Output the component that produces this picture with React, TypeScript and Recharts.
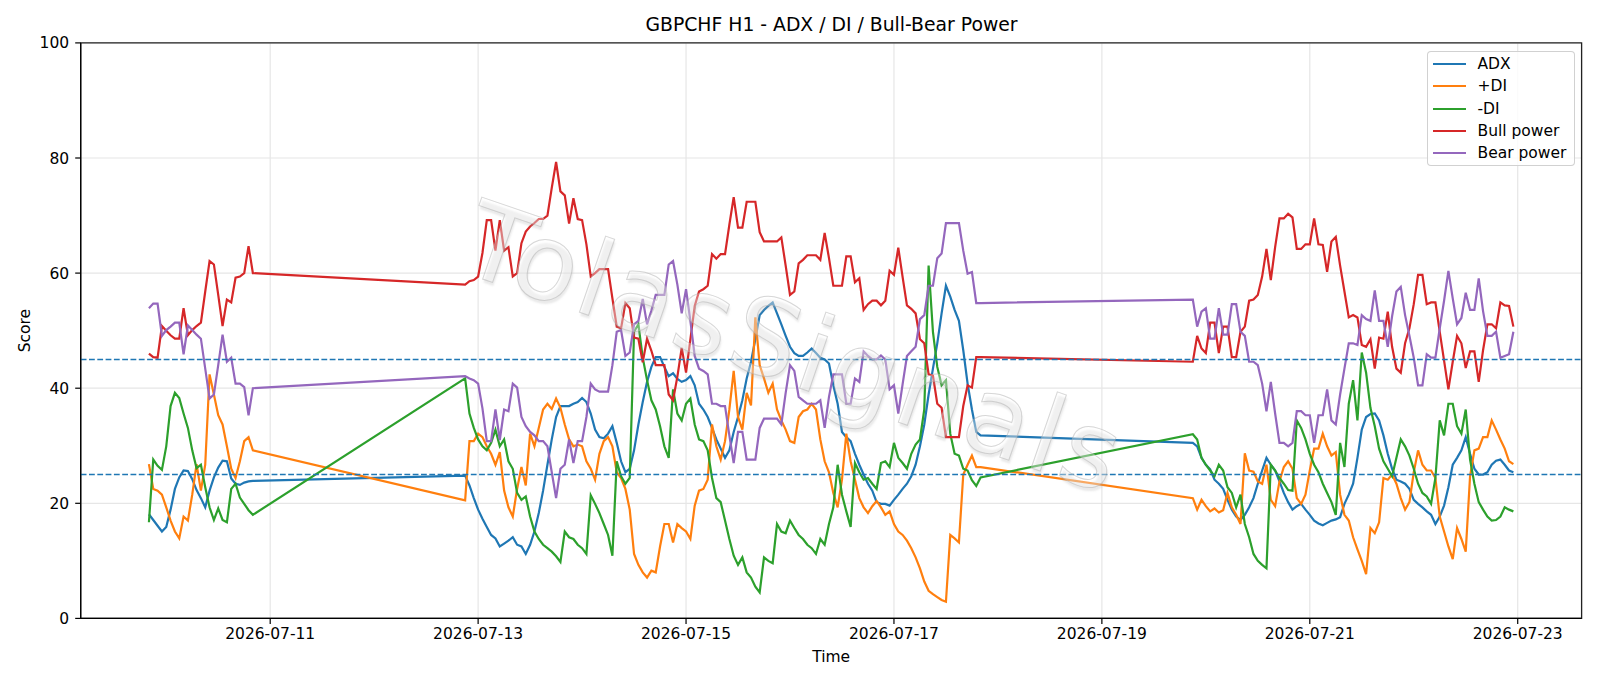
import React from 'react';
import { LineChart, Line, XAxis, YAxis, CartesianGrid, ReferenceLine, ReferenceArea, Legend, Label } from 'recharts';

// Trading sessions (hourly bars): start time and number of bars
const sessionStarts = ['2026-07-09T20:00', '2026-07-12T21:00', '2026-07-19T21:00'];
const sessionBars = [25, 120, 75];

const adx = [
  18.1, 17.1, 16.1, 15.1, 15.9, 18.9, 22.5, 24.5, 25.7, 25.6, 24.2, 22.3, 20.9, 19.3, 22.2, 24.5, 26.2, 27.4, 27.3, 24.3, 23.4, 23.2, 23.6, 23.8, 23.9,
  24.8, 23.1, 20.9, 18.9, 17.3, 15.9, 14.5, 13.9, 12.5, 13.0, 13.5, 14.1, 12.8, 12.5, 11.2, 12.8, 15.1, 18.3, 22.2, 26.7, 31.1, 35.0, 36.9, 36.9, 36.9, 37.3, 37.6,
  38.3, 37.6, 35.6, 32.8, 31.5, 31.3, 32.1, 33.4, 30.5, 27.3, 25.4, 26.0, 29.2, 33.7, 37.6, 41.1, 43.7, 45.4, 45.4, 43.7, 42.1, 42.6, 41.6, 41.1, 41.4, 42.1, 40.5, 37.3,
  36.3, 35.0, 33.1, 31.1, 29.5, 27.9, 29.2, 32.4, 35.0, 37.9, 41.7, 44.6, 48.5, 52.7, 53.6, 54.3, 54.9, 53.0, 51.1, 49.1, 47.2, 46.1, 45.6, 45.6, 46.2, 46.9, 46.1, 45.3, 45.0,
  44.3, 40.5, 37.3, 32.4, 31.5, 30.8, 28.6, 26.7, 25.0, 23.4, 22.2, 20.2, 19.9, 19.9, 19.6, 20.6, 21.5, 22.5, 23.4, 24.7, 26.7, 29.9, 33.7, 38.9, 43.4, 47.8, 53.0, 57.8, 55.9, 53.6, 51.7, 46.6, 40.8, 36.3, 32.4, 31.8,
  30.5, 29.9, 27.9, 26.7, 25.9, 24.1, 23.4, 22.5, 20.6, 18.9, 17.7, 17.1, 18.0, 19.3, 20.9, 23.4, 25.7, 27.9, 26.7, 25.7, 23.8, 21.8, 20.2, 18.9, 19.5, 19.9, 18.9, 18.0, 17.0, 16.5, 16.2, 16.6, 17.0, 17.2, 17.6, 19.9, 21.5,
  23.4, 27.9, 32.8, 35.0, 35.5, 35.6, 34.4, 31.8, 28.6, 26.0, 24.1, 23.8, 23.4, 22.5, 20.6, 19.9, 19.3, 18.6, 18.0, 16.4, 17.7, 19.6, 22.8, 26.7, 27.9, 29.2, 31.5, 28.6, 26.0, 25.0, 25.0, 25.4, 26.7, 27.4, 27.6, 26.7, 25.7, 25.4,
];

const plusDI = [
  26.8, 22.5, 22.2, 21.5, 19.3, 17.0, 15.1, 13.9, 17.7, 17.0, 21.5, 26.8, 22.2, 26.7, 42.4, 38.9, 35.3, 33.7, 29.9, 26.0, 24.4, 27.3, 30.8, 31.5, 29.2,
  20.5, 30.8, 30.8, 32.1, 31.5, 29.9, 28.6, 26.7, 28.9, 22.2, 19.3, 17.7, 22.5, 26.3, 23.1, 32.1, 29.9, 33.1, 36.3, 37.3, 36.4, 38.2, 36.6, 33.7, 31.1, 29.9, 30.2,
  29.9, 27.3, 26.0, 24.1, 28.6, 30.8, 31.5, 29.9, 25.4, 24.4, 22.5, 18.9, 11.2, 9.3, 8.0, 7.1, 8.3, 8.0, 12.5, 16.4, 16.4, 13.2, 16.4, 15.7, 15.1, 13.8, 19.6, 22.2,
  22.5, 24.1, 33.7, 29.9, 27.6, 30.8, 36.3, 43.0, 35.0, 32.8, 39.2, 37.0, 52.3, 44.0, 41.7, 39.2, 40.8, 36.3, 34.4, 32.8, 30.8, 30.5, 35.0, 36.0, 36.3, 37.3, 36.3, 31.1, 27.3,
  25.4, 21.8, 19.3, 24.1, 32.1, 27.3, 24.1, 20.9, 19.3, 18.3, 19.5, 20.4, 19.3, 18.0, 18.6, 16.4, 15.1, 14.5, 13.5, 12.2, 10.6, 8.7, 6.4, 4.8, 4.2, 3.7, 3.2, 2.9, 14.5, 13.9, 13.2, 25.0, 26.7, 28.3, 26.3, 26.3,
  20.9, 18.9, 20.6, 19.5, 18.6, 19.1, 18.4, 18.8, 21.8, 19.3, 18.0, 16.4, 28.7, 25.7, 25.5, 23.8, 23.4, 26.7, 20.6, 19.5, 23.8, 26.3, 27.3, 26.0, 20.9, 19.9, 21.5, 25.7, 29.5, 29.5, 32.1, 29.9, 28.3, 28.9, 21.5, 18.0, 17.0,
  14.1, 12.0, 10.0, 7.7, 15.7, 14.8, 16.7, 24.4, 24.1, 25.0, 23.4, 20.9, 18.9, 20.2, 25.4, 29.2, 26.7, 25.7, 25.7, 24.4, 17.7, 15.1, 12.5, 10.3, 15.7, 13.8, 11.6, 24.7, 29.2, 29.5, 31.5, 31.5, 34.4, 32.8, 31.1, 29.5, 27.3, 26.8,
];

const minusDI = [
  16.7, 27.6, 26.5, 25.8, 29.9, 36.9, 39.2, 38.3, 35.6, 33.1, 29.2, 26.1, 26.7, 22.8, 19.3, 17.1, 19.1, 17.1, 16.7, 22.5, 23.4, 21.0, 19.9, 18.8, 18.0,
  41.7, 35.6, 33.1, 31.1, 29.9, 29.2, 30.5, 32.8, 29.9, 31.1, 27.3, 26.0, 21.8, 20.6, 21.2, 17.7, 15.1, 13.8, 12.8, 12.2, 11.6, 10.8, 9.8, 15.1, 14.1, 13.8, 12.8,
  12.2, 11.2, 21.4, 19.9, 18.3, 16.4, 14.5, 10.9, 27.3, 24.7, 23.4, 24.4, 49.8, 51.1, 45.3, 41.4, 37.9, 36.3, 33.4, 29.9, 27.9, 39.8, 35.6, 34.4, 37.3, 38.2, 33.7, 31.1,
  30.8, 29.2, 24.4, 20.9, 20.2, 17.0, 13.8, 10.9, 9.3, 10.6, 8.0, 7.1, 5.5, 4.5, 10.6, 10.0, 9.6, 16.4, 15.1, 14.8, 17.0, 15.7, 14.5, 13.8, 12.8, 12.2, 11.2, 13.8, 12.8,
  16.4, 19.3, 26.7, 21.5, 18.6, 15.9, 27.0, 25.4, 24.1, 24.4, 23.4, 22.5, 27.0, 27.3, 26.3, 30.5, 27.9, 27.0, 26.0, 28.6, 30.2, 31.1, 36.3, 61.3, 49.8, 43.7, 40.5, 41.4, 32.1, 28.6, 28.3, 26.0, 25.7, 24.0, 23.0, 24.5,
  32.0, 31.1, 27.9, 26.7, 25.7, 24.7, 26.7, 25.7, 22.8, 21.8, 19.3, 21.5, 16.4, 14.1, 11.2, 10.0, 9.3, 8.7, 26.7, 25.7, 24.4, 23.4, 22.3, 22.2, 34.4, 33.1, 31.1, 28.6, 26.7, 25.4, 23.4, 21.8, 20.2, 18.0, 30.5, 26.3, 37.3,
  41.4, 34.4, 46.2, 42.7, 36.6, 33.4, 29.5, 27.3, 26.0, 24.7, 27.9, 31.1, 29.9, 28.3, 26.0, 23.4, 21.8, 21.2, 19.9, 24.4, 34.4, 31.8, 37.3, 37.3, 33.4, 32.1, 36.3, 27.6, 23.4, 20.2, 18.9, 17.7, 17.0, 17.1, 17.7, 19.3, 18.9, 18.6,
];

const bullPower = [
  46.0, 45.4, 45.3, 50.8, 50.0, 49.2, 48.6, 48.6, 53.9, 49.2, 50.1, 50.8, 51.4, 56.8, 62.1, 61.5, 56.2, 50.8, 55.4, 54.9, 59.2, 59.4, 60.0, 64.7, 60.0,
  58.0, 58.6, 58.8, 59.4, 63.5, 69.2, 69.2, 63.9, 69.2, 63.9, 64.5, 59.4, 60.0, 65.2, 67.2, 68.1, 68.7, 69.4, 69.4, 70.0, 74.8, 79.3, 74.2, 73.5, 68.6, 73.0, 69.4,
  69.2, 65.0, 59.4, 60.0, 60.7, 60.7, 60.7, 55.6, 50.7, 50.4, 54.8, 53.9, 48.8, 48.6, 44.5, 48.6, 46.5, 44.0, 44.0, 44.0, 38.9, 37.9, 42.0, 47.0, 42.7, 48.5, 54.3, 56.8,
  57.2, 57.8, 63.3, 62.5, 63.3, 63.3, 68.4, 73.2, 67.9, 67.9, 72.4, 72.4, 72.4, 67.1, 65.5, 65.5, 65.5, 65.5, 66.2, 61.3, 56.2, 56.8, 61.7, 62.3, 63.1, 63.1, 63.1, 62.3, 67.0,
  62.6, 57.8, 57.8, 57.8, 62.9, 62.9, 58.4, 59.1, 53.6, 54.6, 55.2, 55.2, 54.4, 55.2, 60.4, 59.7, 64.4, 59.3, 54.4, 53.8, 53.0, 48.5, 47.8, 42.4, 42.2, 37.3, 36.6, 31.5, 31.5, 31.5, 31.5, 36.9, 40.5, 40.1, 45.4, 45.4,
  44.6, 49.1, 46.9, 46.1, 51.4, 51.4, 46.1, 50.7, 50.7, 45.4, 45.4, 49.8, 50.7, 55.2, 55.4, 56.2, 59.4, 64.2, 58.8, 64.5, 69.5, 69.5, 70.3, 69.7, 64.2, 64.2, 65.0, 65.0, 69.5, 65.0, 64.9, 60.2, 65.5, 66.3, 61.3, 56.8, 52.3,
  52.7, 52.3, 47.5, 47.2, 48.5, 43.4, 48.8, 48.6, 53.3, 47.2, 43.4, 42.7, 47.8, 50.4, 54.6, 59.7, 59.7, 54.6, 54.9, 54.9, 49.8, 44.8, 39.8, 44.6, 49.1, 47.8, 43.5, 46.4, 46.4, 41.1, 46.6, 51.1, 51.1, 50.4, 54.9, 54.4, 54.3, 50.7,
];

const bearPower = [
  53.9, 54.7, 54.7, 49.1, 50.1, 50.7, 51.4, 51.4, 45.9, 50.9, 50.1, 49.3, 48.6, 43.4, 38.2, 38.9, 44.0, 49.3, 44.6, 45.3, 40.8, 40.8, 40.2, 35.3, 40.0,
  42.1, 41.7, 41.4, 40.8, 36.5, 30.8, 30.8, 36.3, 31.0, 36.3, 36.0, 40.8, 40.1, 35.0, 33.4, 32.4, 31.8, 30.8, 30.8, 29.9, 25.4, 20.9, 26.0, 26.7, 31.1, 27.0, 30.8,
  30.8, 35.0, 40.8, 39.8, 39.4, 39.4, 39.4, 44.0, 49.8, 50.1, 45.6, 46.2, 51.1, 51.7, 55.5, 51.1, 53.5, 56.2, 56.2, 56.2, 61.5, 62.1, 58.0, 53.0, 57.2, 51.7, 45.6, 43.4,
  43.0, 42.4, 37.3, 37.3, 36.9, 36.9, 31.8, 27.0, 32.4, 32.4, 27.6, 27.6, 27.6, 33.1, 34.7, 34.7, 34.7, 34.7, 33.7, 39.2, 44.0, 43.0, 38.5, 37.9, 37.3, 37.3, 37.3, 37.9, 33.1,
  38.5, 42.4, 42.4, 42.4, 37.3, 37.3, 41.7, 41.1, 46.4, 45.6, 45.0, 45.0, 45.7, 45.0, 39.8, 40.5, 35.6, 40.7, 45.6, 46.4, 47.2, 52.0, 52.7, 57.8, 57.8, 62.6, 63.4, 68.7, 68.7, 68.7, 68.7, 63.9, 59.9, 60.2, 54.8, 54.8,
  55.4, 50.7, 53.3, 53.9, 48.6, 48.6, 53.9, 49.3, 49.3, 54.6, 54.6, 49.8, 49.1, 44.6, 44.6, 44.0, 40.8, 36.0, 41.1, 35.6, 30.5, 30.5, 29.9, 30.5, 36.0, 36.0, 35.3, 35.3, 30.5, 35.3, 35.3, 39.8, 34.4, 33.7, 38.9, 43.4, 47.8,
  47.8, 47.5, 52.7, 52.0, 51.7, 57.0, 51.7, 51.7, 47.2, 52.5, 56.8, 57.6, 52.7, 49.1, 45.3, 40.5, 40.5, 45.9, 45.3, 45.3, 50.4, 55.2, 60.4, 55.6, 51.1, 52.2, 56.6, 53.6, 53.6, 59.1, 53.4, 49.1, 49.1, 49.8, 45.3, 45.6, 45.9, 49.8,
];

const xTickLabels = ['2026-07-11', '2026-07-13', '2026-07-15', '2026-07-17', '2026-07-19', '2026-07-21', '2026-07-23'];
const yTicks = [0, 20, 40, 60, 80, 100];
const thresholdLevels = [45, 25];

const seriesMeta = [
  { key: 'adx', name: 'ADX', color: '#1f77b4' },
  { key: 'plusDI', name: '+DI', color: '#ff7f0e' },
  { key: 'minusDI', name: '-DI', color: '#2ca02c' },
  { key: 'bull', name: 'Bull power', color: '#d62728' },
  { key: 'bear', name: 'Bear power', color: '#9467bd' },
];

const TITLE = 'GBPCHF H1 - ADX / DI / Bull-Bear Power';
const WATERMARK = 'TolasSignals';

const ORIGIN = Date.parse('2026-07-09T00:00:00Z');
const toHours = (iso: string) => (Date.parse(iso + ':00Z') - ORIGIN) / 3600000;

const times: number[] = [];
sessionStarts.forEach((s, i) => {
  const h0 = toHours(s);
  for (let k = 0; k < sessionBars[i]; k++) times.push(h0 + k);
});

const data = times.map((t, i) => ({
  t,
  adx: adx[i],
  plusDI: plusDI[i],
  minusDI: minusDI[i],
  bull: bullPower[i],
  bear: bearPower[i],
}));

const tMin = times[0];
const tMax = times[times.length - 1];
const pad = (tMax - tMin) * 0.05;
const xDomain: [number, number] = [tMin - pad, tMax + pad];
const xTicks = xTickLabels.map((d) => toHours(d + 'T00:00'));
const fmtX = (v: number) => {
  const i = xTicks.findIndex((x) => Math.abs(x - v) < 1e-6);
  return i >= 0 ? xTickLabels[i] : '';
};

const FONT = '"DejaVu Sans", "Liberation Sans", sans-serif';
const FS = 15.5;

const LegendBox = (props: any) => {
  const raw = (props.payload || []) as any[];
  const order = seriesMeta.map((s) => s.name);
  const payload = [...raw].sort((a, b) => order.indexOf(a.value) - order.indexOf(b.value));
  return (
    <div
      style={{
        position: 'relative',
        width: 148,
        height: 115,
        boxSizing: 'border-box',
        border: '1px solid rgba(204,204,204,0.9)',
        borderRadius: 4,
        background: 'rgba(255,255,255,0.8)',
        fontFamily: FONT,
        fontSize: FS,
        color: '#000',
      }}
    >
      {payload.map((p: any, i: number) => (
        <div key={i} style={{ position: 'absolute', left: 0, top: 1 + Math.round(i * 22.3), height: 22, width: 146 }}>
          <div style={{ position: 'absolute', left: 5, top: 10, width: 33, height: 2, background: p.color }} />
          <div style={{ position: 'absolute', left: 50, top: 0, lineHeight: '22px', whiteSpace: 'nowrap' }}>{p.value}</div>
        </div>
      ))}
    </div>
  );
};

const ScoreLabel = (props: any) => {
  const vb = props.viewBox || { x: 0, y: 0, width: 0, height: 0 };
  const cx = 25.5;
  const cy = vb.y + vb.height / 2;
  return (
    <text
      x={cx}
      y={cy}
      transform={`rotate(-90 ${cx} ${cy})`}
      textAnchor="middle"
      dominantBaseline="central"
      fontFamily={FONT}
      fontSize={FS}
      fill="#000"
    >
      Score
    </text>
  );
};

export default function App() {
  return (
    <div style={{ position: 'absolute', left: 0, top: 0, width: 1600, height: 686, background: '#fff', fontFamily: FONT, overflow: 'hidden' }}>
      <div
        style={{
          position: 'absolute',
          left: 81,
          width: 1501,
          top: 14,
          lineHeight: '22px',
          textAlign: 'center',
          fontSize: 18.8,
          color: '#000',
          fontFamily: FONT,
        }}
      >
        {TITLE}
      </div>
      <LineChart width={1600} height={686} data={data} margin={{ top: 42.9, right: 18.4, left: 40.7, bottom: 37.6 }}>
        <CartesianGrid stroke="#e6e6e6" strokeWidth={1.2} />
        <XAxis
          dataKey="t"
          type="number"
          domain={xDomain}
          ticks={xTicks}
          tickFormatter={fmtX}
          allowDataOverflow
          height={30}
          tickSize={5.5}
          tickMargin={4}
          tick={{ fontSize: FS, fill: '#000', fontFamily: FONT }}
          tickLine={{ stroke: '#000', strokeWidth: 1.2 }}
          axisLine={{ stroke: '#000', strokeWidth: 1.2 }}
        >
          <Label value="Time" position="bottom" offset={2.3} style={{ fontSize: FS, fill: '#000', fontFamily: FONT }} />
        </XAxis>
        <YAxis
          type="number"
          domain={[0, 100]}
          ticks={yTicks}
          width={40}
          tickSize={5.5}
          tickMargin={6}
          tick={{ fontSize: FS, fill: '#000', fontFamily: FONT }}
          tickLine={{ stroke: '#000', strokeWidth: 1.2 }}
          axisLine={{ stroke: '#000', strokeWidth: 1.2 }}
        >
          <Label content={ScoreLabel} />
        </YAxis>
        {seriesMeta.map((s) => (
          <Line
            key={s.key}
            type="linear"
            dataKey={s.key}
            name={s.name}
            stroke={s.color}
            strokeWidth={2.2}
            dot={false}
            activeDot={false}
            isAnimationActive={false}
          />
        ))}
        {thresholdLevels.map((lv) => (
          <ReferenceLine key={lv} y={lv} stroke="#1f77b4" strokeWidth={1.5} strokeDasharray="5.8 2.5" />
        ))}
        <ReferenceArea x1={xDomain[0]} x2={xDomain[1]} y1={0} y2={100} fill="none" stroke="#222" strokeWidth={1.3} ifOverflow="visible" />
        <Legend
          layout="vertical"
          align="center"
          verticalAlign="middle"
          wrapperStyle={{ position: 'absolute', left: 1426.5, top: 50.5, width: 148, height: 115 }}
          content={LegendBox}
        />
      </LineChart>
      <div
        style={{
          position: 'absolute',
          left: 795,
          top: 348,
          transform: 'translate(-50%, -50%) rotate(19deg)',
          fontSize: 106,
          letterSpacing: 4,
          fontFamily: FONT,
          whiteSpace: 'nowrap',
          color: 'rgba(255,255,255,0.3)',
          WebkitTextStroke: '1px rgba(175,175,175,0.5)',
          textShadow: '2px 3px 2px rgba(170,170,170,0.25)',
          pointerEvents: 'none',
        }}
      >
        {WATERMARK}
      </div>
    </div>
  );
}
